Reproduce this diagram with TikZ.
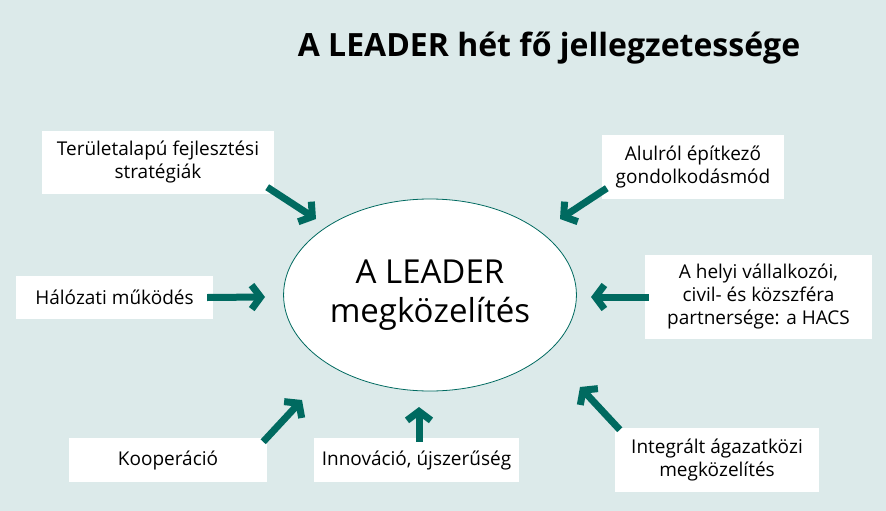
\documentclass[tikz,border=0pt]{standalone}
\usepackage{fontspec}
\setmainfont{Open Sans}
\usetikzlibrary{arrows.meta,shapes.geometric}
\definecolor{leaderteal}{HTML}{006A60}
\definecolor{leaderbg}{HTML}{DCEAEA}
\begin{document}
\begin{tikzpicture}[x=1pt, y=-1pt, >={Straight Barb[length=9pt,width=24pt]},
  featbox/.style={fill=white, align=center, inner sep=0pt, font=\fontsize{19}{23}\selectfont},
  feedarrow/.style={->, line width=7pt, leaderteal}]
\fill[leaderbg] (0,0) rectangle (886,511);
\node[anchor=base, font=\bfseries\fontsize{32}{36}\selectfont] (title) at (549,57) {A LEADER hét fő jellegzetessége};
% central idea
\node[ellipse, draw=leaderteal, line width=0.8pt, fill=white, minimum width=290pt, minimum height=192pt, align=center, font=\fontsize{33}{39}\selectfont] (lead) at (430,295) {A LEADER\\megközelítés};
% the seven features
\node[featbox, minimum width=232pt, minimum height=63pt] (terulet) at (158,162.5) {Területalapú fejlesztési\\stratégiák};
\node[featbox, minimum width=182pt, minimum height=64pt] (alulrol) at (693,167) {Alulról építkező\\gondolkodásmód};
\node[featbox, minimum width=197pt, minimum height=43pt] (halozat) at (114.5,297.5) {Hálózati működés};
\node[featbox, minimum width=227pt, minimum height=84pt] (hacs) at (758.5,297) {A helyi vállalkozói,\\civil- és közszféra\\partnersége: a HACS};
\node[featbox, minimum width=198pt, minimum height=44pt] (koop) at (168,460) {Kooperáció};
\node[featbox, minimum width=205pt, minimum height=44pt] (innov) at (416.5,460) {Innováció, újszerűség};
\node[featbox, minimum width=204pt, minimum height=64pt] (integr) at (717,460) {Integrált ágazatközi\\megközelítés};
% arrow ends near the ellipse
\coordinate (toTer) at (316,219);
\coordinate (toAlu) at (560,219);
\coordinate (toHal) at (265,297);
\coordinate (toHac) at (591,297);
\coordinate (toKoo) at (302,400);
\coordinate (toInn) at (419,407);
\coordinate (toInt) at (580,387);
\draw[feedarrow] ([shift={(-7,-7)}]terulet.south east) -- (toTer);
\draw[feedarrow] ([shift={(5,-11)}]alulrol.south west) -- (toAlu);
\draw[feedarrow] ([shift={(-6,0)}]halozat.east) -- (toHal);
\draw[feedarrow] ([shift={(4,0)}]hacs.west) -- (toHac);
\draw[feedarrow] ([shift={(-4,4)}]koop.north east) -- (toKoo);
\draw[feedarrow] ([shift={(2.5,4)}]innov.north) -- (toInn);
\draw[feedarrow] ([shift={(5,2)}]integr.north west) -- (toInt);
\end{tikzpicture}
\end{document}
